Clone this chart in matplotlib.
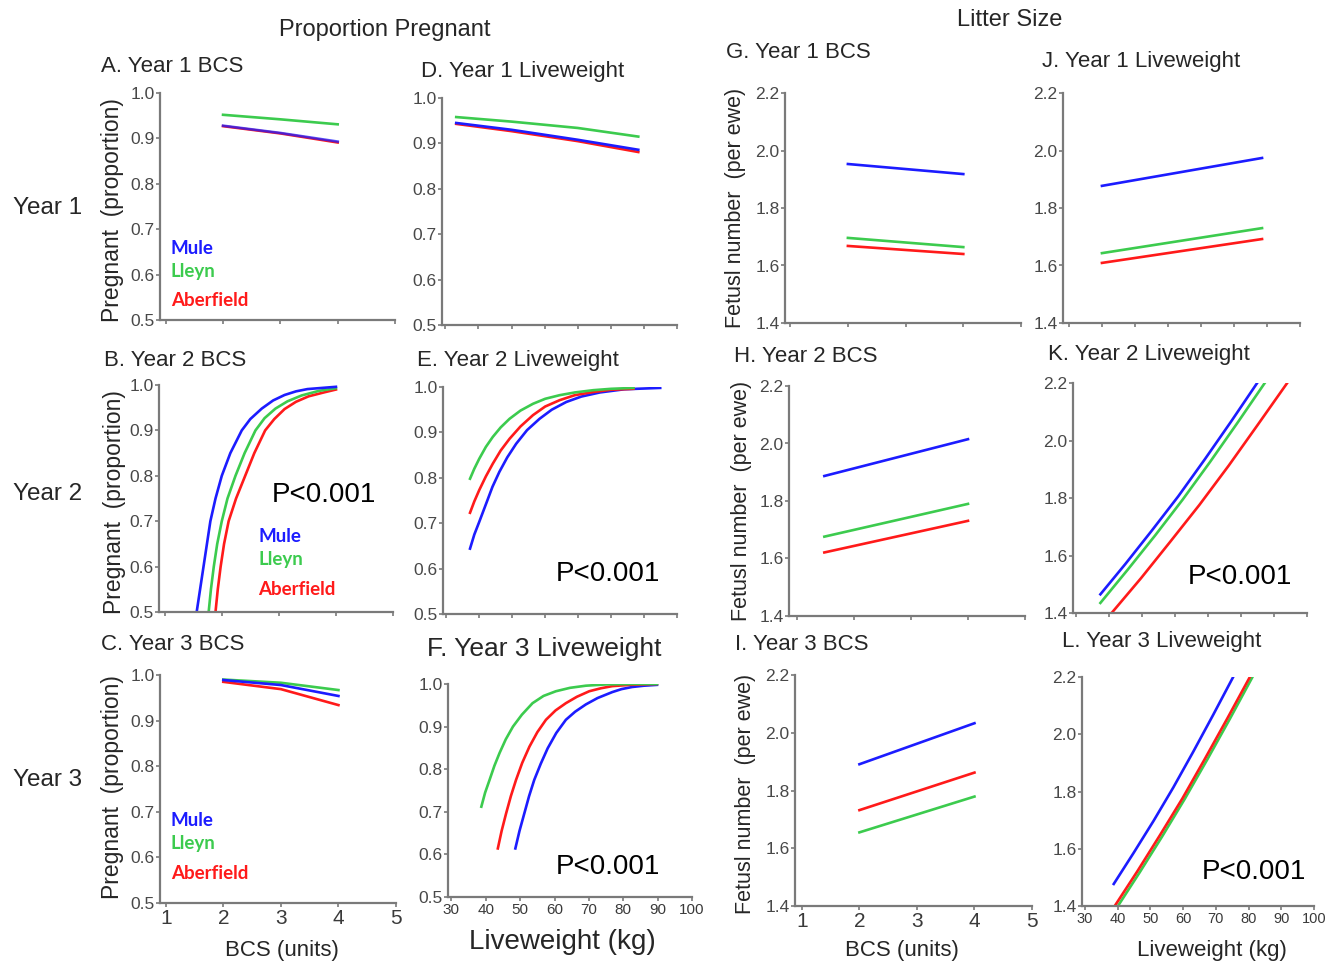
import matplotlib.pyplot as plt

plt.rcParams['font.family'] = ['Liberation Sans', 'DejaVu Sans']

W, H = 1330, 963

BLUE = '#1c1cff'
GREEN = '#3ccb4e'
RED = '#ff1a1a'

# A. Year 1 BCS (proportion pregnant)
a_x = [2, 3, 4]
a_mule = [0.928, 0.912, 0.893]
a_lleyn = [0.952, 0.942, 0.931]
a_aber = [0.927, 0.911, 0.891]

# B. Year 2 BCS
b_mule_x = [1.56, 1.62, 1.68, 1.74, 1.80, 1.89, 2.0, 2.15, 2.35, 2.5, 2.7, 2.9, 3.1, 3.3, 3.5, 4.0]
b_mule_y = [0.50, 0.55, 0.60, 0.65, 0.70, 0.75, 0.80, 0.85, 0.90, 0.925, 0.948, 0.966, 0.978,
            0.986, 0.991, 0.996]
b_lleyn_x = [1.77, 1.81, 1.86, 1.92, 2.0, 2.1, 2.24, 2.4, 2.59, 2.75, 2.94, 3.15, 3.4, 3.7, 4.0]
b_lleyn_y = [0.50, 0.55, 0.60, 0.65, 0.70, 0.75, 0.80, 0.85, 0.90, 0.927, 0.948, 0.964, 0.977,
             0.987, 0.993]
b_aber_x = [1.89, 1.93, 1.98, 2.04, 2.12, 2.25, 2.41, 2.57, 2.76, 2.92, 3.1, 3.3, 3.52, 3.8, 4.0]
b_aber_y = [0.50, 0.55, 0.60, 0.65, 0.70, 0.75, 0.80, 0.85, 0.90, 0.925, 0.947, 0.963, 0.975,
            0.984, 0.99]

# C. Year 3 BCS
c_x = [2, 3, 4]
c_mule = [0.989, 0.978, 0.954]
c_lleyn = [0.990, 0.983, 0.967]
c_aber = [0.985, 0.969, 0.934]

# D. Year 1 liveweight
d_x = [33.3, 50, 70, 88.3]
d_mule = [0.945, 0.930, 0.908, 0.886]
d_lleyn = [0.958, 0.948, 0.934, 0.915]
d_aber = [0.943, 0.927, 0.905, 0.881]

# E. Year 2 liveweight
e_mule_x = [37.2, 38.5, 40, 42.5, 44, 46.1, 48.5, 51.2, 54.5, 58.3, 62, 66.4, 71, 76.6, 84, 94.9]
e_mule_y = [0.644, 0.675, 0.703, 0.751, 0.780, 0.813, 0.845, 0.875, 0.905, 0.930, 0.950, 0.967,
            0.979, 0.988, 0.995, 0.998]
e_aber_x = [37.2, 38.5, 40, 42, 44.1, 46.5, 49.2, 52.5, 56.3, 60, 64.4, 69, 74.6, 80, 86.8]
e_aber_y = [0.723, 0.748, 0.773, 0.803, 0.831, 0.860, 0.886, 0.913, 0.938, 0.957, 0.971, 0.982,
            0.989, 0.994, 0.996]
e_lleyn_x = [37.2, 38.5, 40, 42, 44.1, 46.5, 49.2, 52.5, 56.3, 60, 64.4, 69, 74.6, 80, 86.8]
e_lleyn_y = [0.798, 0.820, 0.842, 0.868, 0.890, 0.911, 0.930, 0.948, 0.963, 0.974, 0.982, 0.988,
             0.993, 0.996, 0.998]

# F. Year 3 liveweight
f_lleyn_x = [38.7, 39.8, 41.1, 42.5, 44.0, 45.8, 47.9, 50.5, 53.6, 56.8, 60.4, 64.5, 69.1, 75, 82.6, 89.8]
f_lleyn_y = [0.712, 0.745, 0.775, 0.808, 0.838, 0.870, 0.900, 0.928, 0.955, 0.972, 0.983, 0.991,
             0.996, 0.999, 1.0, 1.0]
f_aber_x = [43.5, 44.6, 45.9, 47.3, 48.8, 50.6, 52.7, 55, 57.5, 60.3, 63.3, 66.5, 70.1, 73.5, 76.8, 82, 89.8]
f_aber_y = [0.614, 0.655, 0.696, 0.737, 0.775, 0.815, 0.853, 0.887, 0.916, 0.938, 0.955, 0.970,
            0.983, 0.990, 0.995, 0.998, 1.0]
f_mule_x = [48.6, 49.8, 51.2, 52.6, 54.1, 56, 58.0, 60.5, 63.3, 66, 69.1, 72.5, 76.8, 79.5, 82.6, 86, 89.8]
f_mule_y = [0.614, 0.655, 0.696, 0.737, 0.775, 0.813, 0.849, 0.885, 0.916, 0.935, 0.952, 0.967,
            0.981, 0.988, 0.993, 0.996, 0.998]

# G. Year 1 BCS (fetus number)
g_x = [2, 4]
g_mule = [1.953, 1.918]
g_lleyn = [1.696, 1.664]
g_aber = [1.668, 1.640]

# H. Year 2 BCS
h_x = [1.48, 4]
h_mule = [1.887, 2.015]
h_lleyn = [1.676, 1.790]
h_aber = [1.621, 1.731]

# I. Year 3 BCS
i_x = [2, 4]
i_mule = [1.891, 2.033]
i_lleyn = [1.655, 1.779]
i_aber = [1.732, 1.862]

# J. Year 1 liveweight
j_x = [40, 88.5]
j_mule = [1.877, 1.974]
j_lleyn = [1.643, 1.730]
j_aber = [1.609, 1.692]

# K. Year 2 liveweight
k_mule_x = [37.4, 45, 53, 61, 69, 77, 84.9]
k_mule_y = [1.465, 1.571, 1.687, 1.806, 1.934, 2.066, 2.2]
k_lleyn_x = [37.4, 45.7, 54, 62.3, 70.6, 78.9, 87.2]
k_lleyn_y = [1.435, 1.551, 1.670, 1.794, 1.925, 2.061, 2.2]
k_aber_x = [40.8, 49.7, 58.5, 67.4, 76.3, 85.1, 94.0]
k_aber_y = [1.40, 1.521, 1.647, 1.776, 1.913, 2.055, 2.2]

# L. Year 3 liveweight
l_mule_x = [38.8, 44.9, 51, 57, 63.1, 69.2, 75.3]
l_mule_y = [1.477, 1.586, 1.698, 1.814, 1.939, 2.068, 2.2]
l_aber_x = [39.1, 46, 52.9, 59.8, 66.6, 73.5, 80.4]
l_aber_y = [1.40, 1.521, 1.647, 1.776, 1.913, 2.055, 2.2]
l_lleyn_x = [39.8, 46.7, 53.6, 60.5, 67.4, 74.3, 81.2]
l_lleyn_y = [1.395, 1.517, 1.643, 1.774, 1.912, 2.054, 2.2]

breeds = ['Mule', 'Lleyn', 'Aberfield']
breed_colors = [BLUE, GREEN, RED]

fig = plt.figure(figsize=(W / 100, H / 100), dpi=100)


def fx(x):
    return x / W


def fy(y):
    return 1 - y / H


def make_ax(left, right, top, bottom, xlim, ylim, xticks, yticks, ylabels, xlabels=None, xsize=11):
    ax = fig.add_axes([fx(left), fy(bottom), (right - left) / W, (bottom - top) / H])
    ax.set_xlim(xlim)
    ax.set_ylim(ylim)
    for s in ['top', 'right']:
        ax.spines[s].set_visible(False)
    for s in ['left', 'bottom']:
        ax.spines[s].set_color('#7a7a7a')
        ax.spines[s].set_linewidth(1.6)
    ax.set_yticks(yticks)
    ax.set_yticklabels(ylabels, fontsize=12.5, color='#484848')
    ax.set_xticks(xticks)
    if xlabels is None:
        ax.set_xticklabels([])
    else:
        ax.set_xticklabels(xlabels, fontsize=xsize, color='#3a3a3a')
    ax.tick_params(length=3, width=1.2, color='#7a7a7a', pad=1)
    ax.patch.set_alpha(0)
    return ax


prop_ticks = [0.5, 0.6, 0.7, 0.8, 0.9, 1.0]
prop_lab = ['0.5', '0.6', '0.7', '0.8', '0.9', '1.0']
fet_ticks = [1.4, 1.6, 1.8, 2.0, 2.2]
fet_lab = ['1.4', '1.6', '1.8', '2.0', '2.2']
bcs_ticks = [1, 2, 3, 4, 5]
bcs_lab = ['1', '2', '3', '4', '5']
lw_ticks = [30, 40, 50, 60, 70, 80, 90, 100]
lw_lab = ['30', '40', '50', '60', '70', '80', '90', '100']

lw = 1.9

# proportion pregnant, BCS column
axA = make_ax(160, 395, 93, 320, (0.9, 5), (0.5, 1.0), bcs_ticks, prop_ticks, prop_lab)
axA.plot(a_x, a_lleyn, color=GREEN, lw=lw)
axA.plot(a_x, a_aber, color=RED, lw=lw)
axA.plot(a_x, a_mule, color=BLUE, lw=lw, alpha=0.75)

axB = make_ax(159, 393, 385, 612, (0.9, 5), (0.5, 1.0), bcs_ticks, prop_ticks, prop_lab)
axB.plot(b_aber_x, b_aber_y, color=RED, lw=lw)
axB.plot(b_lleyn_x, b_lleyn_y, color=GREEN, lw=lw)
axB.plot(b_mule_x, b_mule_y, color=BLUE, lw=lw)

axC = make_ax(160, 396, 675, 903, (0.9, 5), (0.5, 1.0), bcs_ticks, prop_ticks, prop_lab, bcs_lab, 15)
axC.plot(c_x, c_aber, color=RED, lw=lw)
axC.plot(c_x, c_lleyn, color=GREEN, lw=lw)
axC.plot(c_x, c_mule, color=BLUE, lw=lw)

# proportion pregnant, liveweight column
axD = make_ax(442, 677, 98, 325, (29, 100), (0.5, 1.0), lw_ticks, prop_ticks, prop_lab)
axD.plot(d_x, d_lleyn, color=GREEN, lw=lw)
axD.plot(d_x, d_aber, color=RED, lw=lw)
axD.plot(d_x, d_mule, color=BLUE, lw=lw)

axE = make_ax(443, 677, 387, 614, (29, 100), (0.5, 1.0), lw_ticks, prop_ticks, prop_lab)
axE.plot(e_mule_x, e_mule_y, color=BLUE, lw=lw)
axE.plot(e_aber_x, e_aber_y, color=RED, lw=lw)
axE.plot(e_lleyn_x, e_lleyn_y, color=GREEN, lw=lw)

axF = make_ax(448, 692, 684, 897, (29, 100), (0.5, 1.0), lw_ticks, prop_ticks, prop_lab, lw_lab, 11)
axF.plot(f_mule_x, f_mule_y, color=BLUE, lw=lw)
axF.plot(f_aber_x, f_aber_y, color=RED, lw=lw)
axF.plot(f_lleyn_x, f_lleyn_y, color=GREEN, lw=lw)

# litter size, BCS column
axG = make_ax(785, 1021, 93, 323, (0.91, 5), (1.4, 2.2), bcs_ticks, fet_ticks, fet_lab)
axG.plot(g_x, g_mule, color=BLUE, lw=lw)
axG.plot(g_x, g_lleyn, color=GREEN, lw=lw)
axG.plot(g_x, g_aber, color=RED, lw=lw)

axH = make_ax(789, 1025, 386, 616, (0.86, 5), (1.4, 2.2), bcs_ticks, fet_ticks, fet_lab)
axH.plot(h_x, h_mule, color=BLUE, lw=lw)
axH.plot(h_x, h_lleyn, color=GREEN, lw=lw)
axH.plot(h_x, h_aber, color=RED, lw=lw)

axI = make_ax(795, 1032, 675, 906, (0.88, 5), (1.4, 2.2), bcs_ticks, fet_ticks, fet_lab, bcs_lab, 15)
axI.plot(i_x, i_mule, color=BLUE, lw=lw)
axI.plot(i_x, i_lleyn, color=GREEN, lw=lw)
axI.plot(i_x, i_aber, color=RED, lw=lw)

# litter size, liveweight column
axJ = make_ax(1063, 1300, 93, 323, (28.2, 100), (1.4, 2.2), lw_ticks, fet_ticks, fet_lab)
axJ.plot(j_x, j_mule, color=BLUE, lw=lw)
axJ.plot(j_x, j_lleyn, color=GREEN, lw=lw)
axJ.plot(j_x, j_aber, color=RED, lw=lw)

axK = make_ax(1073, 1307, 383, 613, (29.1, 100), (1.4, 2.2), lw_ticks, fet_ticks, fet_lab)
axK.plot(k_aber_x, k_aber_y, color=RED, lw=lw)
axK.plot(k_lleyn_x, k_lleyn_y, color=GREEN, lw=lw)
axK.plot(k_mule_x, k_mule_y, color=BLUE, lw=lw)

axL = make_ax(1082, 1314, 677, 906, (29.1, 100), (1.4, 2.2), lw_ticks, fet_ticks, fet_lab, lw_lab, 10.5)
axL.plot(l_mule_x, l_mule_y, color=BLUE, lw=lw)
axL.plot(l_lleyn_x, l_lleyn_y, color=GREEN, lw=lw)
axL.plot(l_aber_x, l_aber_y, color=RED, lw=lw)

# panel titles
TXT = '#262626'
titles = [
    (101, 67, 'A. Year 1 BCS', 16), (104, 360, 'B. Year 2 BCS', 16), (101, 644, 'C. Year 3 BCS', 16),
    (421, 72, 'D. Year 1 Liveweight', 16), (417, 360, 'E. Year 2 Liveweight', 16),
    (427, 649, 'F. Year 3 Liveweight', 19),
    (726, 53, 'G. Year 1 BCS', 16), (734, 356, 'H. Year 2 BCS', 16), (735, 644, 'I. Year 3 BCS', 16),
    (1042, 61, 'J. Year 1 Liveweight', 16), (1048, 354, 'K. Year 2 Liveweight', 16),
    (1062, 642, 'L. Year 3 Liveweight', 16),
]
for x, y, t, s in titles:
    fig.text(fx(x), fy(y), t, fontsize=s, color=TXT, ha='left', va='center')

fig.text(fx(385), fy(30), 'Proportion Pregnant', fontsize=17, color=TXT, ha='center', va='center')
fig.text(fx(1010), fy(20), 'Litter Size', fontsize=17, color=TXT, ha='center', va='center')

for y, t in [(208, 'Year 1'), (494, 'Year 2'), (780, 'Year 3')]:
    fig.text(fx(13), fy(y), t, fontsize=17.5, color=TXT, ha='left', va='center')

for x, y in [(113, 210), (115, 502), (113, 787)]:
    fig.text(fx(x), fy(y), 'Pregnant  (proportion)', fontsize=16.5, color=TXT,
             rotation=90, ha='center', va='center')
for x, y in [(735, 208), (742, 501), (745, 794)]:
    fig.text(fx(x), fy(y), 'Fetusl number  (per ewe)', fontsize=15.5, color=TXT,
             rotation=90, ha='center', va='center')

fig.text(fx(282), fy(950), 'BCS (units)', fontsize=16, color=TXT, ha='center', va='center')
fig.text(fx(562), fy(942), 'Liveweight (kg)', fontsize=20, color=TXT, ha='center', va='center')
fig.text(fx(902), fy(950), 'BCS (units)', fontsize=16, color=TXT, ha='center', va='center')
fig.text(fx(1212), fy(950), 'Liveweight (kg)', fontsize=16, color=TXT, ha='center', va='center')

for x, y in [(324, 495), (608, 574), (608, 867), (1240, 577), (1254, 872)]:
    fig.text(fx(x), fy(y), 'P<0.001', fontsize=20, color='black', ha='center', va='center')

# breed key
for x, y0 in [(171, 248), (258, 536), (171, 820)]:
    for k, (name, col) in enumerate(zip(breeds, breed_colors)):
        dy = [0, 24, 53][k]
        fig.text(fx(x), fy(y0 + dy), name, fontsize=13.5, fontweight='bold',
                 family=['Lato', 'DejaVu Sans'], color=col, ha='left', va='center')

fig.savefig('out.png', dpi=100)
